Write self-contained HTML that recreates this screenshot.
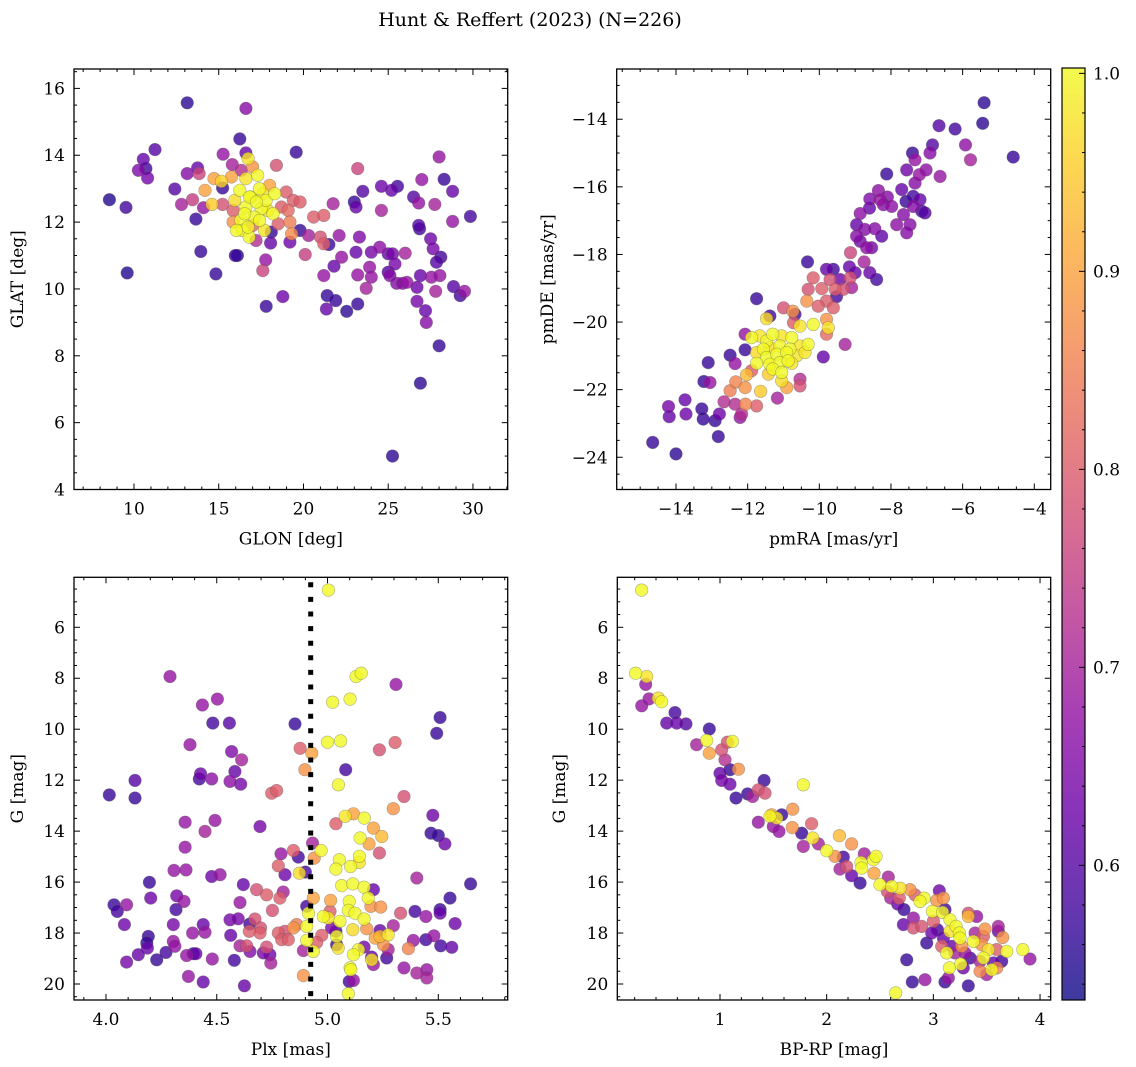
<!DOCTYPE html>
<html><head><meta charset="utf-8">
<style>
html,body{margin:0;padding:0;background:#fff;}
svg{display:block;font-family:"DejaVu Serif","Liberation Serif",serif;}
</style></head>
<body>
<svg id="fig" width="1136" height="1067" viewBox="0 0 1136 1067" xmlns="http://www.w3.org/2000/svg">
<defs>
<linearGradient id="plasmaGrad" x1="0" y1="1" x2="0" y2="0">
<stop offset="0" stop-color="#0d0887"/><stop offset="0.1" stop-color="#41049d"/><stop offset="0.2" stop-color="#6a00a8"/><stop offset="0.3" stop-color="#8f0da4"/><stop offset="0.4" stop-color="#b12a90"/><stop offset="0.5" stop-color="#cc4778"/><stop offset="0.6" stop-color="#e16462"/><stop offset="0.7" stop-color="#f2844b"/><stop offset="0.8" stop-color="#fca636"/><stop offset="0.9" stop-color="#fcce25"/><stop offset="1" stop-color="#f0f921"/>
</linearGradient>
</defs>
<text x="530" y="26" font-size="19" text-anchor="middle">Hunt &amp; Reffert (2023) (N=226)</text>
</svg>
<script>
// ---------- Panel 1: GLON vs GLAT ----------
const p1Glon=[8.55,9.53,9.6,11.24,10.55,10.26,10.7,10.8,13.14,16.6,16.24,16.6,19.57,15.26,12.41,13.14,13.75,13.84,12.8,13.45,13.65,14.1,13.94,14.83,14.19,14.6,14.72,15.23,15.23,15.16,15.75,15.8,16.33,16.73,17.0,17.3,16.6,16.24,15.95,15.85,15.85,16.3,16.4,16.8,16.9,17.4,17.5,17.8,18.0,18.3,18.2,17.7,17.1,16.6,17.0,18.5,18.4,18.98,19.4,19.8,19.1,19.2,19.3,18.7,18.1,17.2,18.06,17.77,17.6,19.2,19.8,20.3,20.1,20.6,21.2,21.0,21.2,21.5,22.1,21.75,23.2,23.0,23.1,23.5,23.3,23.1,22.25,21.8,21.2,21.4,21.9,21.35,22.55,23.2,23.2,23.9,24.0,23.7,24.0,24.5,24.6,24.6,25.2,25.55,25.0,25.25,25.0,25.1,25.4,25.5,25.85,26.1,26.0,25.25,26.5,26.8,26.98,26.8,26.85,27.5,27.65,28.1,27.85,28.05,27.55,26.9,26.7,27.8,26.7,27.2,27.25,28.0,28.3,28.8,27.75,28.8,29.85,28.85,29.25,29.5,28.0,26.9,17.8,18.78,15.98,16.1,16.82,17.22,17.61,16.53,17.41,17.9,16.73,16.04];
const p1Glat=[12.67,12.44,10.48,14.17,13.88,13.55,13.6,13.32,15.57,15.4,14.49,14.07,14.09,14.03,12.99,13.45,13.62,13.45,12.53,12.67,12.09,12.43,11.12,10.45,12.95,12.53,13.3,12.53,13.02,13.22,13.35,13.72,13.55,13.9,13.65,13.4,13.3,12.95,12.65,12.35,12.0,12.05,11.75,11.55,12.75,13.0,12.4,12.65,13.1,12.85,12.25,11.75,12.15,12.45,11.9,11.95,13.7,12.9,12.65,12.6,12.35,12.0,11.65,12.45,11.7,11.45,11.37,10.87,10.55,11.4,11.75,11.6,11.03,12.15,12.2,11.55,11.35,11.33,11.6,12.55,13.6,12.6,12.45,12.92,11.55,11.1,10.95,10.68,10.4,9.8,9.65,9.4,9.33,9.55,10.42,10.65,10.35,10.02,11.1,11.25,12.35,13.07,12.95,13.07,11.05,11.05,10.5,10.4,10.75,10.17,10.17,10.2,11.07,5.0,12.75,12.57,13.27,11.9,11.8,11.5,11.2,10.95,10.8,10.4,10.35,10.4,10.05,9.93,9.63,9.35,9.0,13.95,13.28,12.92,12.53,12.02,12.17,10.07,9.8,9.93,8.3,7.18,9.48,9.77,11.0,11.0,12.75,12.6,12.85,12.25,12.05,12.35,11.85,11.75];
const p1Prob=[0.55,0.58,0.55,0.6,0.62,0.65,0.58,0.64,0.56,0.66,0.57,0.62,0.57,0.68,0.6,0.66,0.62,0.76,0.7,0.75,0.57,0.68,0.57,0.57,0.9,0.95,0.9,0.78,0.57,0.96,0.9,0.7,0.72,0.98,0.88,1.0,0.98,1.0,0.97,0.8,0.88,1.0,1.0,1.0,1.0,1.0,1.0,1.0,0.9,1.0,1.0,0.98,1.0,1.0,0.82,0.8,0.78,0.8,0.8,0.8,0.82,0.85,0.87,0.8,0.57,0.72,0.62,0.68,0.76,0.63,0.57,0.7,0.75,0.8,0.8,0.78,0.8,0.57,0.68,0.7,0.76,0.57,0.62,0.6,0.65,0.62,0.68,0.62,0.68,0.57,0.57,0.62,0.56,0.57,0.68,0.68,0.68,0.7,0.64,0.67,0.7,0.63,0.62,0.58,0.62,0.64,0.6,0.66,0.64,0.66,0.66,0.68,0.7,0.56,0.6,0.68,0.68,0.6,0.58,0.63,0.64,0.58,0.6,0.68,0.68,0.62,0.63,0.7,0.64,0.62,0.66,0.68,0.57,0.62,0.7,0.68,0.58,0.6,0.58,0.68,0.57,0.56,0.57,0.63,0.57,0.55,1.0,1.0,0.98,1.0,1.0,0.98,1.0,1.0];

// ---------- Panel 2: pmRA vs pmDE ----------
const p2PmRA=[-5.4,-5.44,-4.59,-6.66,-6.21,-5.92,-5.78,-6.84,-6.91,-7.4,-7.33,-7.56,-7.02,-6.63,-7.21,-7.33,-8.12,-7.7,-7.58,-7.38,-7.19,-7.38,-7.14,-7.05,-7.65,-7.84,-7.47,-7.56,-8.35,-8.59,-8.3,-8.1,-7.98,-8.21,-8.6,-8.86,-8.96,-8.73,-8.45,-8.26,-8.96,-8.86,-8.68,-8.54,-9.13,-8.75,-8.59,-8.4,-10.33,-9.8,-9.61,-9.16,-9.0,-9.42,-9.14,-10.17,-10.31,-9.93,-9.7,-9.56,-9.33,-9.1,-9.52,-9.8,-9.61,-10.03,-10.35,-11.75,-11.0,-10.74,-10.68,-10.72,-10.54,-10.17,-9.75,-9.8,-9.8,-11.47,-11.38,-9.28,-9.89,-12.07,-12.07,-12.49,-12.35,-13.1,-13.22,-13.05,-12.49,-12.33,-12.07,-12.03,-11.89,-11.64,-11.05,-10.91,-10.54,-10.54,-11.17,-11.75,-12.06,-12.35,-12.66,-12.21,-12.17,-12.79,-12.91,-13.24,-13.28,-13.75,-13.72,-14.21,-14.19,-12.82,-14.65,-14.0,-11.89,-11.66,-11.47,-11.3,-11.05,-10.77,-11.56,-11.38,-11.1,-10.82,-10.54,-10.31,-11.75,-11.47,-11.19,-10.91,-10.63,-11.38,-11.1,-10.77,-11.3,-11.42,-11.75,-10.4,-11.05,-10.87];
const p2PmDE=[-13.51,-14.12,-15.12,-14.19,-14.29,-14.76,-15.2,-14.76,-15.0,-15.0,-15.2,-15.5,-15.5,-15.69,-15.64,-15.89,-15.62,-16.08,-16.43,-16.28,-16.38,-16.58,-16.72,-16.77,-16.82,-17.12,-17.12,-17.36,-16.11,-16.36,-16.38,-16.3,-16.58,-16.53,-16.63,-16.79,-17.12,-17.26,-17.24,-17.46,-17.46,-17.61,-17.8,-17.8,-17.95,-18.22,-18.54,-18.74,-18.22,-18.44,-18.44,-18.37,-18.54,-18.74,-18.69,-18.69,-19.03,-19.01,-18.74,-19.03,-19.03,-18.98,-19.25,-19.38,-19.58,-19.53,-19.38,-19.31,-19.58,-19.68,-19.77,-20.02,-20.12,-20.07,-20.17,-20.36,-19.92,-19.9,-19.82,-20.66,-21.03,-20.36,-20.82,-20.98,-21.23,-21.2,-21.76,-21.79,-22.03,-21.77,-21.94,-21.56,-21.44,-22.05,-21.74,-21.94,-21.69,-21.89,-22.25,-22.48,-22.43,-22.43,-22.36,-22.82,-22.72,-22.72,-22.92,-22.87,-22.57,-22.3,-22.72,-22.5,-22.8,-23.39,-23.56,-23.9,-20.46,-20.41,-20.56,-20.36,-20.41,-20.46,-20.8,-20.76,-20.71,-20.8,-20.71,-20.66,-20.9,-21.05,-20.95,-20.9,-21.0,-21.25,-21.2,-21.22,-21.39,-21.54,-21.22,-20.9,-21.49,-21.15];
const p2Prob=[0.56,0.56,0.57,0.6,0.58,0.67,0.7,0.6,0.66,0.57,0.68,0.63,0.67,0.68,0.68,0.66,0.57,0.62,0.57,0.58,0.62,0.66,0.58,0.6,0.66,0.67,0.66,0.66,0.67,0.65,0.68,0.66,0.67,0.66,0.62,0.67,0.62,0.66,0.66,0.61,0.66,0.64,0.67,0.64,0.76,0.7,0.62,0.58,0.57,0.62,0.58,0.62,0.62,0.63,0.78,0.8,0.78,0.8,0.78,0.8,0.78,0.7,0.58,0.8,0.8,0.8,0.88,0.57,0.78,0.88,0.58,0.8,0.98,1.0,0.98,0.82,0.88,0.97,0.58,0.7,0.62,0.68,0.57,0.57,0.68,0.57,0.57,0.68,0.85,0.86,0.88,0.93,0.8,0.95,0.97,0.9,0.72,0.78,0.7,0.8,0.86,0.72,0.72,0.68,0.72,0.63,0.57,0.57,0.57,0.62,0.63,0.64,0.62,0.57,0.57,0.56,1.0,0.98,1.0,1.0,0.98,1.0,1.0,0.97,1.0,1.0,0.98,1.0,0.97,1.0,1.0,1.0,0.98,1.0,1.0,0.98,1.0,0.95,1.0,0.98,1.0,1.0];

// ---------- Panel 3: Plx vs G ----------
const p3Plx=[5.004,4.289,4.435,4.503,4.482,4.557,4.379,4.567,4.612,4.582,4.427,4.421,4.477,4.56,4.608,4.131,4.131,4.015,4.853,4.876,4.929,4.898,4.748,4.77,4.357,4.492,4.447,4.695,4.357,4.307,4.361,4.477,4.515,4.196,4.62,4.68,4.725,4.785,4.8,4.319,4.352,4.202,4.036,4.093,4.051,4.083,4.316,4.304,4.439,4.447,4.391,4.191,4.184,4.187,4.304,4.311,4.146,4.093,4.229,4.271,4.364,4.394,4.406,4.48,4.579,4.372,4.439,4.625,4.605,4.56,4.597,4.563,4.649,4.672,4.698,4.695,4.647,4.751,4.778,4.808,4.793,4.823,4.605,4.635,4.65,4.71,4.725,4.744,4.74,4.79,4.846,4.868,4.778,4.808,4.873,4.9,4.932,4.94,4.971,4.846,4.861,4.906,4.914,4.906,4.906,4.936,4.891,4.891,4.974,4.951,4.936,5.014,5.011,4.981,5.003,5.018,5.038,5.056,5.041,5.048,5.041,5.0,5.059,5.023,5.102,5.129,5.152,5.309,5.234,5.305,5.082,5.049,5.345,5.297,5.038,5.08,5.117,5.166,5.207,5.245,5.147,5.187,5.234,5.144,5.143,5.053,5.038,5.104,5.064,5.114,5.165,5.207,5.184,5.098,5.196,5.24,5.094,5.124,5.165,5.177,5.114,5.237,5.215,5.237,5.274,5.252,5.274,5.165,5.14,5.117,5.199,5.207,5.199,5.267,5.102,5.105,5.098,5.117,5.094,5.297,5.33,5.395,5.403,5.444,5.365,5.387,5.444,5.48,5.511,5.561,5.508,5.508,5.553,5.576,5.646,5.345,5.403,5.448,5.448,5.475,5.467,5.5,5.53,5.508,5.493];
const p3Gmag=[4.54,7.93,9.05,8.82,9.76,9.76,10.61,10.88,11.2,11.66,11.75,11.95,11.95,12.05,12.16,12.01,12.7,12.58,9.79,10.75,10.94,11.59,12.51,12.41,13.65,13.58,14.01,13.82,14.63,15.54,15.52,15.78,15.71,16.01,16.1,16.3,16.5,16.63,16.39,16.54,16.76,16.63,16.89,16.89,17.15,17.67,17.08,17.67,17.67,17.97,18.0,18.13,18.39,18.59,18.33,18.52,18.85,19.14,19.05,18.76,18.88,18.81,18.81,19.02,19.07,19.7,19.92,20.07,16.8,17.48,17.44,18.09,17.65,17.45,17.8,18.0,17.93,17.11,18.0,17.93,18.26,18.26,18.5,18.5,18.72,18.78,18.55,19.18,18.85,14.89,14.76,15.02,15.36,15.71,15.65,15.61,14.47,15.06,14.76,17.8,17.67,16.95,17.22,17.74,18.29,18.72,18.69,19.67,18.09,18.37,16.63,16.72,17.15,17.35,17.41,17.8,17.93,17.54,18.13,18.59,18.46,10.51,10.46,8.94,8.82,7.93,7.8,8.24,10.81,10.52,11.59,12.18,12.64,13.12,13.71,13.42,13.32,13.49,13.88,14.21,14.27,14.5,14.86,14.99,15.23,15.12,15.49,15.39,16.14,16.07,16.2,16.3,16.63,16.76,16.95,16.98,17.11,17.22,17.45,17.83,17.87,17.9,18.2,18.13,18.07,18.46,18.65,18.55,18.65,18.85,18.94,19.24,19.05,18.98,19.37,19.44,19.9,19.86,20.38,17.71,17.22,17.15,15.84,17.35,18.61,18.29,18.26,18.11,18.5,18.56,17.08,17.22,16.63,17.63,16.07,19.37,19.57,19.44,19.76,13.38,14.08,14.17,14.5,9.54,10.16];
const p3Prob=[1.0,0.68,0.68,0.68,0.58,0.6,0.68,0.65,0.7,0.62,0.63,0.58,0.67,0.67,0.64,0.6,0.57,0.57,0.57,0.8,0.9,0.88,0.8,0.8,0.68,0.68,0.7,0.64,0.68,0.68,0.68,0.63,0.68,0.57,0.62,0.78,0.8,0.8,0.7,0.64,0.68,0.63,0.57,0.68,0.58,0.63,0.58,0.64,0.62,0.68,0.68,0.57,0.57,0.62,0.68,0.68,0.62,0.64,0.57,0.58,0.68,0.58,0.62,0.68,0.58,0.68,0.62,0.62,0.68,0.64,0.64,0.62,0.58,0.78,0.78,0.8,0.8,0.78,0.8,0.78,0.8,0.8,0.7,0.78,0.65,0.64,0.78,0.7,0.63,0.68,0.8,0.58,0.8,0.63,0.97,0.58,0.7,0.88,1.0,0.88,0.85,0.58,1.0,1.0,1.0,1.0,0.7,0.88,0.8,0.8,0.9,0.9,0.8,1.0,0.98,0.65,0.58,1.0,1.0,0.98,0.58,1.0,1.0,1.0,1.0,1.0,1.0,0.68,0.78,0.8,0.58,1.0,0.78,0.88,0.8,0.98,0.9,1.0,0.9,0.93,1.0,0.9,0.78,1.0,0.98,1.0,1.0,1.0,1.0,1.0,1.0,0.62,1.0,1.0,0.88,0.88,1.0,1.0,1.0,0.88,0.97,0.62,0.9,0.93,0.98,0.88,0.7,0.64,1.0,1.0,0.62,0.68,0.98,0.58,1.0,1.0,0.58,0.68,1.0,0.7,0.78,0.58,0.7,0.68,0.86,0.68,0.58,0.68,0.58,0.62,0.57,0.62,0.57,0.63,0.57,0.68,0.7,0.68,0.7,0.63,0.57,0.57,0.63,0.57,0.57];
const plxCut=[4.924];

// ---------- Panel 4: BP-RP vs G ----------
const p4Color=[0.266,0.209,0.313,0.303,0.266,0.334,0.422,0.453,0.578,0.5,0.594,0.681,0.9,0.781,0.875,0.9,1.016,1.069,1.116,1.047,1.094,1.172,1.0,1.016,1.094,1.413,1.15,1.259,1.306,1.359,1.422,1.781,1.359,1.469,1.484,1.531,1.578,1.5,1.553,1.681,1.678,1.766,1.859,1.869,1.781,1.922,2.0,2.078,2.119,2.234,2.156,2.125,2.188,2.234,2.322,2.328,2.313,2.353,2.438,2.463,2.444,2.5,2.578,2.609,2.688,2.569,2.6,2.666,2.725,2.681,2.781,2.828,2.913,2.875,2.719,2.813,2.813,2.891,2.938,2.75,2.803,2.922,2.647,3.056,3.031,3.094,3.109,2.991,3.087,3.156,3.213,3.244,3.25,3.156,3.328,3.328,3.406,3.0,2.984,3.038,3.094,3.078,3.125,3.172,3.203,3.266,3.297,3.344,3.375,3.391,3.469,3.484,3.453,3.516,3.469,3.438,3.438,3.5,3.547,3.256,3.281,3.15,3.141,3.109,3.328,3.609,3.609,3.65,3.594,3.641,3.688,3.838,3.906,3.563,3.594];
const p4Gmag=[4.54,7.8,7.93,8.24,9.08,8.81,8.78,8.92,9.35,9.76,9.76,9.79,9.99,10.61,10.44,10.94,10.81,10.51,10.48,11.2,11.59,11.57,11.73,12.01,12.16,12.01,12.7,12.54,12.64,12.38,12.51,12.18,13.65,13.42,13.36,13.49,13.36,13.82,14.01,13.14,13.86,14.08,13.71,14.27,14.6,14.5,14.77,14.99,14.18,14.5,15.02,15.49,15.39,15.75,15.23,15.45,16.04,14.89,15.12,14.99,15.65,16.1,15.8,16.17,16.24,16.37,16.63,16.86,17.08,16.63,16.3,16.5,16.63,16.76,17.67,17.41,17.8,17.74,18.39,19.05,19.92,19.83,20.35,16.34,16.72,16.63,17.08,17.15,17.19,17.48,17.74,18.0,18.2,17.93,17.35,17.22,17.35,17.54,18.0,17.87,18.2,18.52,18.78,18.52,18.78,18.52,18.78,18.98,18.33,18.0,18.13,17.84,18.46,18.65,18.98,19.11,19.5,19.63,19.44,19.22,19.37,19.37,19.76,19.92,20.07,17.74,17.93,18.17,18.65,19.11,18.72,18.65,19.02,19.17,19.37];
const p4Prob=[1.0,1.0,0.98,0.68,0.68,0.68,0.98,1.0,0.58,0.62,0.62,0.6,0.57,0.7,1.0,0.9,0.78,0.78,1.0,0.72,0.57,0.88,0.62,0.64,0.63,0.57,0.57,0.57,0.7,0.78,0.78,1.0,0.68,1.0,0.9,0.98,0.57,0.68,0.68,0.88,0.88,0.57,0.8,0.98,0.7,0.7,1.0,0.88,0.93,0.88,0.58,0.7,0.78,0.62,1.0,1.0,0.57,0.7,1.0,1.0,0.9,1.0,0.7,1.0,0.98,0.78,0.7,0.62,0.57,0.8,0.88,0.8,1.0,1.0,0.62,0.68,0.78,0.78,0.57,0.57,0.57,0.68,1.0,0.63,0.88,0.88,0.58,1.0,1.0,1.0,1.0,1.0,1.0,0.98,0.93,0.78,0.68,0.8,0.63,0.58,0.62,0.8,1.0,0.62,0.7,0.88,0.68,0.58,1.0,0.7,0.8,0.88,0.88,0.98,1.0,0.7,0.86,0.7,1.0,1.0,0.63,1.0,0.68,0.57,0.57,0.7,0.63,0.88,0.8,0.58,1.0,1.0,0.68,0.62,0.86];

// ---------- Colorbar ----------
const cbarTicks=[0.6,0.7,0.8,0.9,1.0];
const cbarTickLabels=["0.6","0.7","0.8","0.9","1.0"];
const probMin=0.532, probMax=1.0027;

const NS='http://www.w3.org/2000/svg';
const svg=document.getElementById('fig');
function mk(tag,attrs,parent){const e=document.createElementNS(NS,tag);for(const k in attrs)e.setAttribute(k,attrs[k]);(parent||svg).appendChild(e);return e;}

const plasma=[[13,8,135],[65,4,157],[106,0,168],[143,13,164],[177,42,144],[204,71,120],[225,100,98],[242,132,75],[252,166,54],[252,206,37],[240,249,33]];
function cmap(p){let t=(p-probMin)/(probMax-probMin);t=Math.max(0,Math.min(1,t))*10;const i=Math.min(9,Math.floor(t)),f=t-i;const a=plasma[i],b=plasma[i+1];return 'rgb('+[0,1,2].map(k=>Math.round(a[k]+(b[k]-a[k])*f)).join(',')+')';}
function fmt(v){const s=(Math.abs(v)<1e-9?0:v).toString();return s.replace('-','\u2212');}

const panels=[
 {id:'glon-glat',L:74,R:507.7,T:69,B:489.5,x0:6.46,x1:32.05,y0:4.0,y1:16.58,inv:false,xs:p1Glon,ys:p1Glat,ps:p1Prob,
  xMaj:5,xMin:1,xFirst:10,yMaj:2,yMin:0.5,yFirst:4,xlab:'GLON [deg]',ylab:'GLAT [deg]',ylx:18,xdec:0,ydec:0},
 {id:'pmra-pmde',L:616.7,R:1050.7,T:69,B:489.5,x0:-15.655,x1:-3.542,y0:-24.954,y1:-12.514,inv:false,xs:p2PmRA,ys:p2PmDE,ps:p2Prob,
  xMaj:2,xMin:0.5,xFirst:-14,yMaj:2,yMin:0.5,yFirst:-24,xlab:'pmRA [mas/yr]',ylab:'pmDE [mas/yr]',ylx:548,xdec:0,ydec:0},
 {id:'plx-g',L:74,R:507.7,T:577.3,B:1000,x0:3.8556,x1:5.8133,y0:20.628,y1:4.038,inv:true,xs:p3Plx,ys:p3Gmag,ps:p3Prob,
  xMaj:0.5,xMin:0.1,xFirst:4.0,yMaj:2,yMin:0.5,yFirst:6,xlab:'Plx [mas]',ylab:'G [mag]',ylx:18,xdec:1,ydec:0},
 {id:'bprp-g',L:617.3,R:1050.7,T:577.3,B:1000,x0:0.0372,x1:4.1,y0:20.628,y1:4.038,inv:true,xs:p4Color,ys:p4Gmag,ps:p4Prob,
  xMaj:1,xMin:0.2,xFirst:1,yMaj:2,yMin:0.5,yFirst:6,xlab:'BP-RP [mag]',ylab:'G [mag]',ylx:560,xdec:0,ydec:0}
];

panels.forEach((P,pi)=>{
 const sx=v=>P.L+(v-P.x0)/(P.x1-P.x0)*(P.R-P.L);
 const sy=v=>P.B-(v-P.y0)/(P.y1-P.y0)*(P.B-P.T);
 const g=mk('g',{});
 
 
 const clip=mk('clipPath',{id:'clip'+pi},g);
 mk('rect',{x:P.L,y:P.T,width:P.R-P.L,height:P.B-P.T},clip);
 const pts=mk('g',{'clip-path':'url(#clip'+pi+')'},g);
 
 
 const n=Math.min(P.xs.length,P.ys.length,P.ps.length);
 const idx=[];for(let i=0;i<n;i++)idx.push(i);
 idx.sort((a,b)=>P.ps[a]-P.ps[b]);
 idx.forEach(i=>{
  const c=mk('circle',{cx:sx(P.xs[i]).toFixed(1),cy:sy(P.ys[i]).toFixed(1),r:6.3,fill:cmap(P.ps[i]),'fill-opacity':0.8,stroke:'#555','stroke-opacity':0.45,'stroke-width':0.6},pts);
  
  
 });
 if(pi===2){
  const xl=sx(plxCut[0]);
  const ln=mk('line',{x1:xl,x2:xl,y1:P.T+5,y2:P.B,stroke:'#000','stroke-width':5,'stroke-dasharray':'5 9.6'},pts);
  
  
 }
 // ticks
 const tk=mk('g',{stroke:'#000','stroke-width':1},g);
 
 
 const eps=1e-6;
 const xStart=Math.ceil((P.x0)/P.xMin-eps)*P.xMin;
 for(let v=xStart;v<=P.x1+eps;v+=P.xMin){
  const vv=Math.round(v/P.xMin)*P.xMin;const X=sx(vv);
  const maj=Math.abs(vv/P.xMaj-Math.round(vv/P.xMaj))<1e-4;const len=maj?6:3;
  mk('line',{x1:X,x2:X,y1:P.B,y2:P.B-len},tk);mk('line',{x1:X,x2:X,y1:P.T,y2:P.T+len},tk);
  if(maj){const t=mk('text',{x:X,y:P.B+25,'font-size':17,'text-anchor':'middle',stroke:'none',fill:'#000'},g);t.textContent=fmt(+vv.toFixed(P.xdec)).replace(/^(\d+)$/,P.xdec?'$1.0':'$1');
   if(P.xdec&&t.textContent.indexOf('.')<0)t.textContent+='.0';
   }
 }
 const ylo=Math.min(P.y0,P.y1),yhi=Math.max(P.y0,P.y1);
 const yStart=Math.ceil(ylo/P.yMin-eps)*P.yMin;
 for(let v=yStart;v<=yhi+eps;v+=P.yMin){
  const vv=Math.round(v/P.yMin)*P.yMin;const Y=sy(vv);
  const maj=Math.abs(vv/P.yMaj-Math.round(vv/P.yMaj))<1e-4;const len=maj?6:3;
  mk('line',{x1:P.L,x2:P.L+len,y1:Y,y2:Y},tk);mk('line',{x1:P.R,x2:P.R-len,y1:Y,y2:Y},tk);
  if(maj){const t=mk('text',{x:P.L-9,y:Y+6,'font-size':17,'text-anchor':'end',stroke:'none',fill:'#000'},g);t.textContent=fmt(Math.round(vv));
   }
 }
 const box=mk('rect',{x:P.L,y:P.T,width:P.R-P.L,height:P.B-P.T,fill:'none',stroke:'#000','stroke-width':1.3},g);
 
 
 const xt=mk('text',{x:(P.L+P.R)/2,y:P.B+55,'font-size':17,'text-anchor':'middle'},g);xt.textContent=P.xlab;
 
 
 const yc=(P.T+P.B)/2;
 const yt=mk('text',{x:P.ylx,y:yc,'font-size':17,'text-anchor':'middle','dominant-baseline':'central',transform:'rotate(-90 '+P.ylx+' '+yc+')'},g);yt.textContent=P.ylab;
 
 
});

// colorbar
(function(){
 const L=1062,R=1085,T=68,B=1000;
 const sc=v=>B-(v-probMin)/(probMax-probMin)*(B-T);
 const g=mk('g',{});
 
 
 mk('rect',{x:L,y:T,width:R-L,height:B-T,fill:'url(#plasmaGrad)','fill-opacity':0.8},g);
 const tk=mk('g',{stroke:'#000','stroke-width':1},g);
 for(let v=0.54;v<=1.0001;v+=0.02){const vv=Math.round(v*100)/100;const Y=sc(vv);const maj=Math.abs(vv*10-Math.round(vv*10))<1e-6;
  mk('line',{x1:R,x2:R-(maj?6:3),y1:Y,y2:Y},tk);}
 cbarTicks.forEach((v,i)=>{const t=mk('text',{x:R+8,y:sc(v)+6,'font-size':17},g);t.textContent=cbarTickLabels[i];
  
  });
 mk('rect',{x:L,y:T,width:R-L,height:B-T,fill:'none',stroke:'#000','stroke-width':1.2},g);
})();
</script>
</body></html>
